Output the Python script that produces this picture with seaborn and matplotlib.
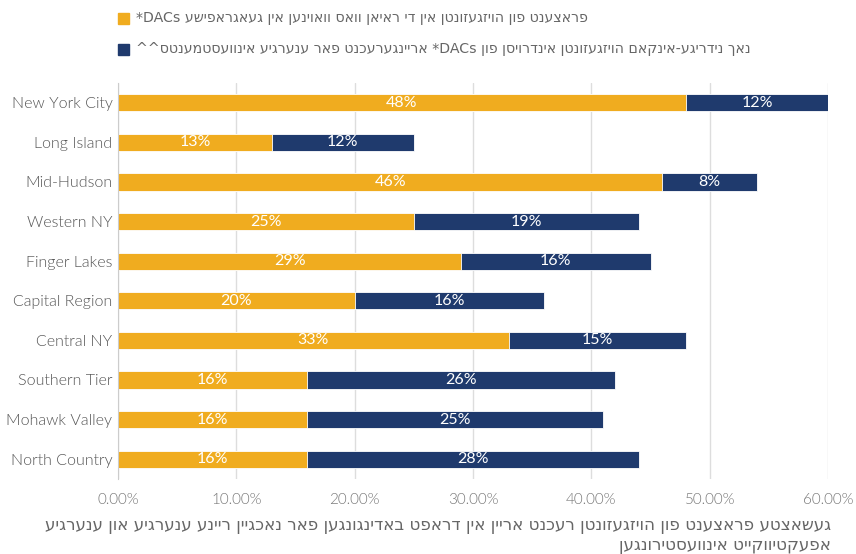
import re
import matplotlib
matplotlib.use("Agg")
import matplotlib.pyplot as plt
import pandas as pd
import seaborn as sns

regions = ["New York City", "Long Island", "Mid-Hudson", "Western NY", "Finger Lakes",
           "Capital Region", "Central NY", "Southern Tier", "Mohawk Valley", "North Country"]
in_dacs = [48, 13, 46, 25, 29, 20, 33, 16, 16, 16]
outside_dacs = [12, 12, 8, 19, 16, 16, 15, 26, 25, 28]
x_ticks = [0, 10, 20, 30, 40, 50, 60]

legend_in = "פראצענט פון הויזגעזונטן אין די ראיאן וואס וואוינען אין געאגראפישע *DACs"
legend_out = "נאך נידריגע-אינקאם הויזגעזונטן אינדרויסן פון *DACs אריינגערעכנט פאר ענערגיע אינוועסטמענטס^^"
xlabel_1 = "געשאצטע פראצענט פון הויזגעזונטן רעכנט אריין אין דראפט באדינגונגען פאר נאכגיין ריינע ענערגיע און ענערגיע"
xlabel_2 = "אפעקטיווקייט אינוועסטירונגען"

ORANGE = "#F0AC1F"
NAVY = "#1F3A6D"
GRAY = "#666666"


def rtl(s):
    # matplotlib has no bidi support, so lay the words out right-to-left by hand
    words = s.split(" ")[::-1]
    return " ".join(w[::-1] if re.search("[\u0590-\u05FF]", w) else w for w in words)


sns.set_style("white")
plt.rcParams["font.family"] = ["Lato", "DejaVu Sans"]
plt.rcParams["font.weight"] = 300

df = pd.DataFrame({"region": regions, "in": in_dacs, "out": outside_dacs})
df["total"] = df["in"] + df["out"]

fig = plt.figure(figsize=(8.56, 5.54), dpi=100)
ax = fig.add_axes([118 / 856, 1 - 479 / 554, 710 / 856, 396 / 554])

sns.barplot(data=df, y="region", x="total", color=NAVY, width=0.43, ax=ax, saturation=1,
            edgecolor="white", linewidth=0.6, orient="h")
sns.barplot(data=df, y="region", x="in", color=ORANGE, width=0.43, ax=ax, saturation=1,
            edgecolor="white", linewidth=0.6, orient="h")

for i, (a, b) in enumerate(zip(in_dacs, outside_dacs)):
    ax.text(a / 2, i, f"{a}%", color="white", ha="center", va="center", fontsize=11.5, fontweight=400)
    ax.text(a + b / 2, i, f"{b}%", color="white", ha="center", va="center", fontsize=11.5, fontweight=400)

ax.set_xlim(0, 60)
ax.set_ylim(len(regions) - 0.5, -0.5)
ax.set_xticks(x_ticks)
ax.set_xticklabels([f"{t:.2f}%" for t in x_ticks], color="#777777", fontsize=11)
ax.tick_params(axis="y", labelsize=11.5, labelcolor="#555555", length=0, pad=4)
ax.tick_params(axis="x", length=0, pad=10)
ax.set_xlabel("")
ax.set_ylabel("")
ax.grid(axis="x", color="#dddddd", linewidth=1)
ax.set_axisbelow(True)
for side in ["top", "right", "bottom"]:
    ax.spines[side].set_visible(False)
ax.spines["left"].set_color("#cccccc")

# legend drawn as squares + text so the rtl strings line up like the original
heb = dict(family=["DejaVu Sans"], fontweight="normal", color=GRAY)
for y, col, txt in [(18, ORANGE, legend_in), (49, NAVY, legend_out)]:
    fig.patches.append(plt.Rectangle((118 / 856, 1 - (y + 6) / 554), 11 / 856, 11 / 554,
                                     transform=fig.transFigure, color=col))
    fig.text(136 / 856, 1 - y / 554, rtl(txt), ha="left", va="center", fontsize=10.2, **heb)

fig.text(831 / 856, 1 - 525 / 554, rtl(xlabel_1), ha="right", va="center", fontsize=12.1, **heb)
fig.text(831 / 856, 1 - 545 / 554, rtl(xlabel_2), ha="right", va="center", fontsize=12.1, **heb)

fig.savefig("out.png", dpi=100)
